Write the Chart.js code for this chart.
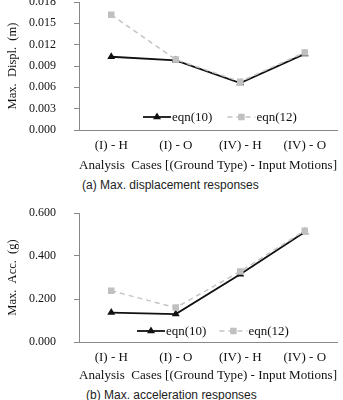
<!DOCTYPE html>
<html>
<head>
<meta charset="utf-8">
<script src="https://cdn.jsdelivr.net/npm/chart.js@4.4.1/dist/chart.umd.min.js"></script>
<style>
  body { margin: 0; background: #fff; width: 343px; height: 400px; overflow: hidden; position: relative; }
  canvas { position: absolute; left: 0; }
  .caption { position: absolute; font: 12px "Liberation Sans", Arial, sans-serif; color: #222; line-height: 14px; white-space: nowrap; }
</style>
</head>
<body>
<canvas id="dispChart" width="343" height="180" style="top:-6px"></canvas>
<div class="caption" style="left:82px; top:178px">(a) Max. displacement responses</div>
<canvas id="accChart" width="343" height="179" style="top:205px"></canvas>
<div class="caption" style="left:86px; top:388px">(b) Max. acceleration responses</div>
<script>
// data
const cases = ['(I) - H', '(I) - O', '(IV) - H', '(IV) - O'];
const seriesNames = ['eqn(10)', 'eqn(12)'];
const dispEqn10 = [0.0103, 0.0098, 0.0066, 0.0107];
const dispEqn12 = [0.0162, 0.0099, 0.0068, 0.0109];
const accEqn10 = [0.137, 0.130, 0.315, 0.512];
const accEqn12 = [0.238, 0.160, 0.328, 0.518];
const dispTicks = [0, 0.003, 0.006, 0.009, 0.012, 0.015, 0.018];
const accTicks = [0, 0.2, 0.4, 0.6];

const serif = '"Liberation Serif", "Times New Roman", serif';
const axisGray = '#888888';

// legend drawn inside the plot: line + marker + label
const lineLegend = {
  id: 'lineLegend',
  afterDraw(chart, args, opts) {
    const { ctx, chartArea } = chart;
    let x = chartArea.left + opts.x;
    const y = chartArea.bottom - opts.y;
    ctx.save();
    ctx.font = '13px ' + serif;
    ctx.textBaseline = 'middle';
    chart.data.datasets.forEach(ds => {
      ctx.strokeStyle = ds.borderColor;
      ctx.lineWidth = ds.borderWidth;
      ctx.setLineDash(ds.borderDash || []);
      ctx.beginPath();
      ctx.moveTo(x, y);
      ctx.lineTo(x + 28, y);
      ctx.stroke();
      ctx.setLineDash([]);
      ctx.fillStyle = ds.pointBackgroundColor;
      const r = ds.pointRadius;
      const cx = x + 14;
      ctx.beginPath();
      if (ds.pointStyle === 'triangle') {
        ctx.moveTo(cx, y - r);
        ctx.lineTo(cx + r * 0.866, y + r * 0.5);
        ctx.lineTo(cx - r * 0.866, y + r * 0.5);
        ctx.closePath();
      } else {
        const s = r * Math.SQRT1_2;
        ctx.rect(cx - s, y - s, 2 * s, 2 * s);
      }
      ctx.fill();
      ctx.fillStyle = '#111';
      ctx.fillText(ds.label, x + 29, y + 1);
      x += 29 + ctx.measureText(ds.label).width + opts.gap;
    });
    ctx.restore();
  }
};

function makeChart(id, eqn10, eqn12, ticks, yTitle, axisHeight, legendPos) {
  const ctx = document.getElementById(id).getContext('2d');
  return new Chart(ctx, {
    type: 'line',
    data: {
      labels: cases,
      datasets: [{
        label: seriesNames[0],
        data: eqn10,
        borderColor: '#111111',
        borderWidth: 1.8,
        pointStyle: 'triangle',
        pointRadius: 4.6,
        pointBackgroundColor: '#111111',
        pointBorderColor: '#111111',
        pointBorderWidth: 0,
        tension: 0,
        order: 1
      }, {
        label: seriesNames[1],
        data: eqn12,
        borderColor: '#c4c4c4',
        borderWidth: 1.5,
        borderDash: [5, 4],
        pointStyle: 'rect',
        pointRadius: 4.6,
        pointBackgroundColor: '#c0c0c0',
        pointBorderColor: '#c0c0c0',
        pointBorderWidth: 0,
        tension: 0,
        order: 0
      }]
    },
    options: {
      responsive: false,
      animation: false,
      layout: { padding: { top: 8, right: 6, left: 0, bottom: 0 } },
      plugins: {
        legend: { display: false },
        tooltip: { enabled: false },
        lineLegend: legendPos
      },
      scales: {
        x: {
          offset: true,
          grid: { display: false, drawTicks: false },
          border: { display: true, color: axisGray, width: 1 },
          ticks: { font: { family: serif, size: 13 }, color: '#111', padding: 8, maxRotation: 0 },
          title: {
            display: true,
            text: 'Analysis  Cases [(Ground Type) - Input Motions]',
            font: { family: serif, size: 13.5 },
            color: '#111',
            padding: { top: 2, bottom: 0 }
          },
          afterFit: s => { s.height = axisHeight; }
        },
        y: {
          min: ticks[0],
          max: ticks[ticks.length - 1],
          afterBuildTicks: s => { s.ticks = ticks.map(v => ({ value: v })); },
          grid: { drawOnChartArea: false, drawTicks: true, tickLength: 5, color: axisGray },
          border: { display: true, color: axisGray, width: 1 },
          ticks: {
            font: { family: serif, size: 12 },
            color: '#111',
            padding: 18,
            callback: v => Number(v).toFixed(3)
          },
          title: {
            display: true,
            text: yTitle,
            font: { family: serif, size: 12.5 },
            color: '#111',
            padding: { top: 5, bottom: 0 }
          },
          // fixed width; drop the tick-padding that Chart.js adds above/below the axis
          afterFit: s => { s.width = 79; s.paddingTop = 0; s.paddingBottom = 0; }
        }
      }
    },
    plugins: [lineLegend]
  });
}

makeChart('dispChart', dispEqn10, dispEqn12, dispTicks, 'Max.  Displ.  (m)', 44, { x: 64, y: 13, gap: 15 });
makeChart('accChart', accEqn10, accEqn12, accTicks, 'Max.  Acc.  (g)', 42, { x: 58, y: 11, gap: 13 });
</script>
</body>
</html>
